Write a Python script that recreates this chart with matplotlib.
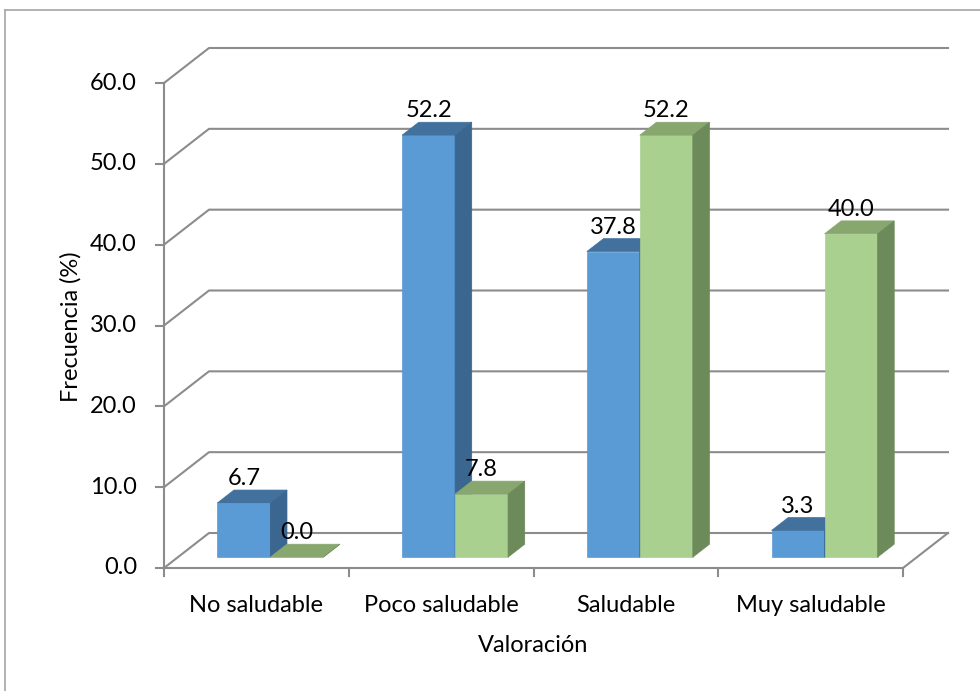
import matplotlib.pyplot as plt
from matplotlib.patches import Polygon

plt.rcParams['font.family'] = ['Lato', 'DejaVu Sans']

categorias = ['No saludable', 'Poco saludable', 'Saludable', 'Muy saludable']
serie_azul = [6.7, 52.2, 37.8, 3.3]
serie_verde = [0.0, 7.8, 52.2, 40.0]
y_ticks = [0, 10, 20, 30, 40, 50, 60]

# colores (frente, tapa, lado)
azul = ('#5b9bd5', '#41719c', '#3a6690')
verde = ('#a9d08e', '#87a76f', '#6d8a5a')
gris = '#8c8c8c'

fig = plt.figure(figsize=(9.8, 6.91), dpi=100)
ax = fig.add_axes([0, 0, 1, 1])

# escala: pixeles por categoria / por unidad, origen del eje
x0_px, y0_px = 164, 568
px_x = (903 - 164) / 4
px_y = 485 / 60


def dx(p):
    return p / px_x


def dy(p):
    return p / px_y


ax.set_xlim(-dx(x0_px), dx(980 - x0_px))
ax.set_ylim(-dy(691 - y0_px), dy(y0_px))
ax.axis('off')

# profundidad del piso / paredes
DX = dx(45)
DY = dy(35)
n = len(categorias)

# marco exterior
ax.plot([dx(5 - x0_px)] * 2, [-dy(691 - y0_px), dy(y0_px - 10)],
        color='#a6a6a6', lw=1.2)
ax.plot([dx(5 - x0_px), dx(980 - x0_px)], [dy(y0_px - 10)] * 2,
        color='#a6a6a6', lw=1.2)

# lineas de cuadricula en la pared del fondo
for t in y_ticks:
    ax.plot([0, DX, n + DX], [t, t + DY, t + DY], color=gris, lw=1.5, zorder=1)
    ax.plot([-dx(8), 0], [t, t], color=gris, lw=1.5, zorder=1)
    ax.text(-dx(27), t, f'{t:.1f}', ha='right', va='center', fontsize=17)

# piso y eje
ax.plot([0, 0], [0, y_ticks[-1]], color=gris, lw=1.5, zorder=1)
ax.plot([0, n, n + DX], [0, 0, DY], color=gris, lw=1.5, zorder=1)
for i in range(n + 1):
    ax.plot([i, i], [0, -dy(8)], color=gris, lw=1.5, zorder=1)

# barras pseudo 3D
w = dx(53)
f0, d = 0.31, 0.37


def barra(x_izq, valor, colores):
    a = f0 * DY
    xl = x_izq + f0 * DX
    xr = xl + w
    ddx, ddy = d * DX, d * DY
    caras = [
        ([(xl, a), (xr, a), (xr, valor + a), (xl, valor + a)], colores[0]),
        ([(xl, valor + a), (xr, valor + a), (xr + ddx, valor + a + ddy),
          (xl + ddx, valor + a + ddy)], colores[1]),
        ([(xr, a), (xr, valor + a), (xr + ddx, valor + a + ddy),
          (xr + ddx, a + ddy)], colores[2]),
    ]
    for pts, c in caras:
        ax.add_patch(Polygon(pts, closed=True, facecolor=c, edgecolor=c,
                             lw=0.5, zorder=3))
    ax.text((xl + xr) / 2, valor + a + ddy + dy(5), f'{valor:.1f}',
            ha='center', va='baseline', fontsize=17, zorder=4)


for i in range(n):
    centro = i + 0.5
    barra(centro - w, serie_azul[i], azul)
    barra(centro, serie_verde[i], verde)

# etiquetas de categorias
for i, cat in enumerate(categorias):
    ax.text(i + 0.5, -dy(612 - y0_px), cat, ha='center', va='baseline',
            fontsize=17)

ax.text(n / 2, -dy(652 - y0_px), 'Valoración', ha='center', va='baseline',
        fontsize=17)
ax.text(dx(71 - x0_px), dy(y0_px - 327), 'Frecuencia (%)', ha='center',
        va='center', rotation=90, fontsize=17)

plt.savefig('out.png', dpi=100)
